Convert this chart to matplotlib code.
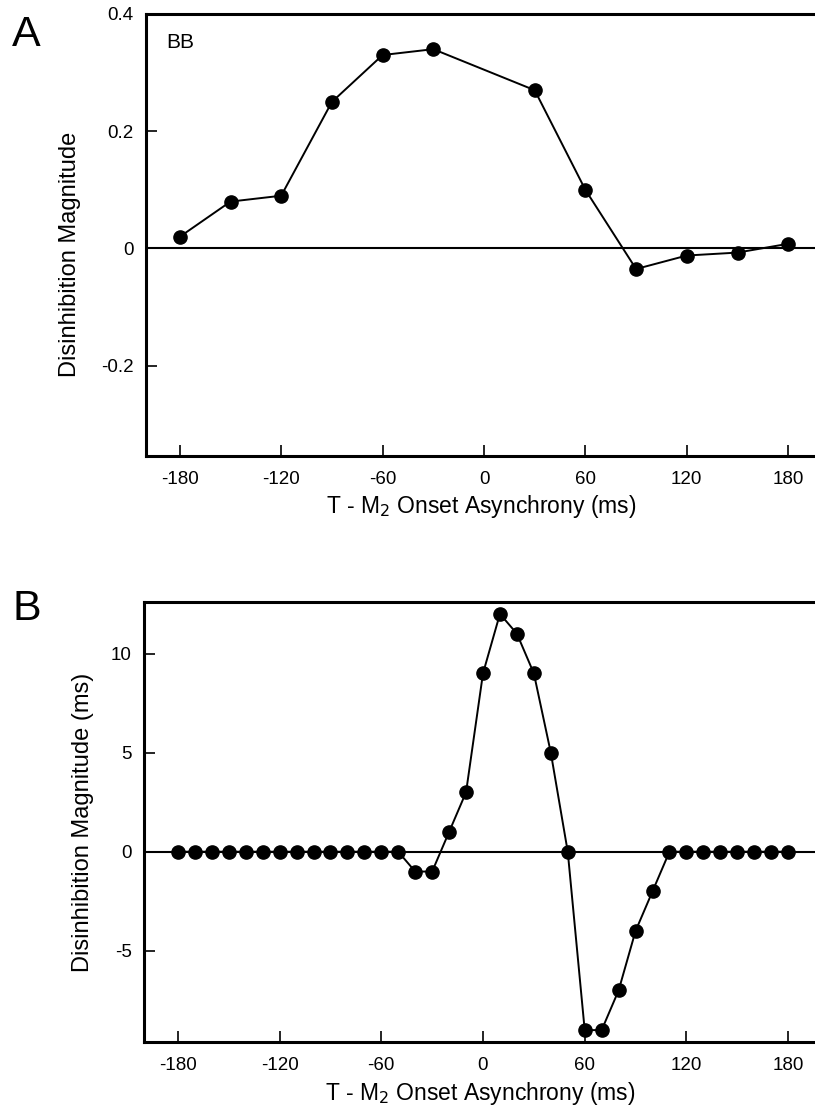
import numpy as np
import matplotlib
matplotlib.use('Agg')
import matplotlib.pyplot as plt

plt.rcParams['font.family'] = ['Liberation Sans', 'DejaVu Sans']
plt.rcParams['axes.unicode_minus'] = False

# panel A: BB
soa_a = [-180, -150, -120, -90, -60, -30, 30, 60, 90, 120, 150, 180]
mag_a = [0.02, 0.08, 0.09, 0.25, 0.33, 0.34, 0.27, 0.10, -0.035, -0.012, -0.007, 0.008]

# panel B
soa_b = list(range(-180, 190, 10))
mag_b = [0] * 14 + [-1, -1, 1, 3, 9, 12, 11, 9, 5, 0, -9, -9, -7, -4, -2] + [0] * 8

xticks = [-180, -120, -60, 0, 60, 120, 180]
yticks_a = [-0.2, 0, 0.2, 0.4]
ytlabels_a = ['-0.2', '0', '0.2', '0.4']
yticks_b = [-5, 0, 5, 10]

xlabel = 'T - M$_2$ Onset Asynchrony (ms)'

fig = plt.figure(figsize=(8.15, 11.07), dpi=100)
axA = fig.add_axes([146/815, 1-456/1107, 676/815, 442/1107])
axB = fig.add_axes([144/815, 1-1042/1107, 678/815, 440/1107])


def style(ax):
    ax.spines['right'].set_visible(False)
    for s in ['left', 'top', 'bottom']:
        ax.spines[s].set_linewidth(2.2)
    ax.tick_params(direction='in', length=8, width=1.2, labelsize=13.5)
    ax.tick_params(axis='x', pad=11)
    ax.tick_params(axis='y', pad=9)
    ax.axhline(0, color='black', lw=1.5, zorder=1)
    ax.set_xlim(-200, 200)
    ax.set_xticks(xticks)
    ax.set_xticklabels([str(t) for t in xticks])
    ax.set_xlabel(xlabel, fontsize=16.5, va='center')


axA.plot(soa_a, mag_a, '-o', color='black', lw=1.4, ms=9.5, zorder=3)
style(axA)
axA.set_ylim(-0.354, 0.4)
axA.set_yticks(yticks_a)
axA.set_yticklabels(ytlabels_a)
axA.set_ylabel('Disinhibition Magnitude', fontsize=17, va='center')
axA.yaxis.set_label_coords(-0.1124, 0.457)
axA.xaxis.set_label_coords(0.496, -0.115)
axA.text(166/815, 1-33/1107, 'BB', transform=fig.transFigure, fontsize=15, va='top', ha='left')

axB.plot(soa_b, mag_b, '-o', color='black', lw=1.4, ms=9.5, zorder=3)
style(axB)
axB.set_ylim(-9.6, 12.6)
axB.set_yticks(yticks_b)
axB.set_yticklabels([str(t) for t in yticks_b])
axB.set_ylabel('Disinhibition Magnitude (ms)', fontsize=17, va='center')
axB.yaxis.set_label_coords(-0.0907, 0.5)
axB.xaxis.set_label_coords(0.496, -0.116)

fig.text(12/815, 1-35/1107, 'A', fontsize=31, va='center', ha='left')
fig.text(13/815, 1-609/1107, 'B', fontsize=31, va='center', ha='left')

fig.savefig('out.png', dpi=100)
